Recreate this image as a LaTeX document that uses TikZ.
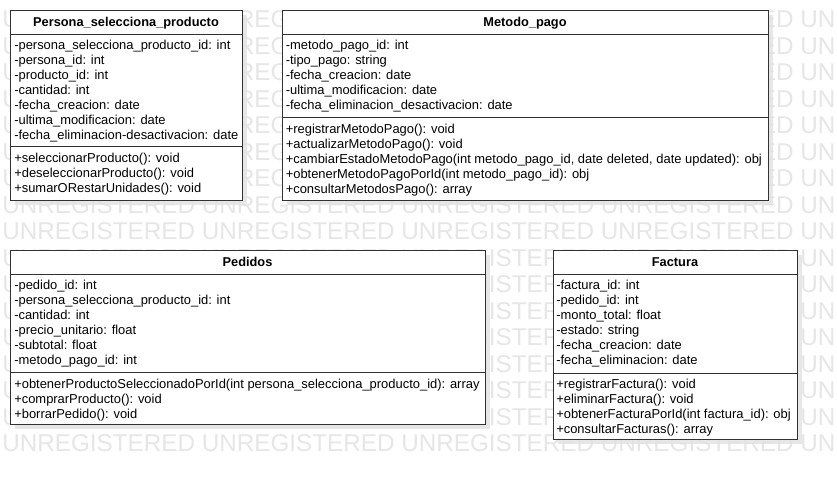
\documentclass[tikz,border=0pt]{standalone}
\usepackage{fontspec}
\setmainfont{Liberation Sans}
\definecolor{wmgray}{RGB}{230,230,230}
\definecolor{shadowgray}{RGB}{226,226,226}
\definecolor{linegray}{RGB}{50,50,50}
\tikzset{
  classbox/.style={draw=linegray, line width=0.75pt, fill=white},
  shadowbox/.style={fill=shadowgray, draw=none, opacity=0.8},
  sepline/.style={draw=linegray, line width=0.75pt},
  member/.style={anchor=base west, inner sep=0pt, font=\fontsize{9.7}{11}\selectfont},
  classtitle/.style={anchor=base, inner sep=0pt, font=\fontsize{9.6}{11}\selectfont\bfseries},
  wm/.style={anchor=base west, inner sep=0pt, text=wmgray, font=\fontsize{18.2}{20}\selectfont},
}
\begin{document}
\begin{tikzpicture}[x=0.75pt,y=-0.75pt]
\useasboundingbox (0,0) rectangle (837,480);
\fill[white] (0,0) rectangle (837,480);
% watermark
\begin{scope}
  \clip (0,0) rectangle (837,480);
  \foreach \i in {0,...,16} {
    \node[wm] (wm\i) at (2,{27.5+26.5*\i}) {UNREGISTERED UNREGISTERED UNREGISTERED UNREGISTERED UNR};
  }
\end{scope}
% shadows
\fill[shadowbox] (15,15) rectangle (247,205);
\fill[shadowbox] (287,15) rectangle (773,205);
\fill[shadowbox] (15,255) rectangle (490,429);
\fill[shadowbox] (558,255) rectangle (802,444);

% ---------- Persona_selecciona_producto
\draw[classbox] (10,10) rectangle (242,200);
\draw[sepline] (10,34) -- (242,34);
\draw[sepline] (10,146) -- (242,146);
\node[classtitle] (t1) at (126,26.5) {Persona\_selecciona\_producto};
\node[member] (a11) at (14,49.5) {-persona\_selecciona\_producto\_id: int};
\node[member] (a12) at (14,64.5) {-persona\_id: int};
\node[member] (a13) at (14,79.5) {-producto\_id: int};
\node[member] (a14) at (14,94.5) {-cantidad: int};
\node[member] (a15) at (14,109.5) {-fecha\_creacion: date};
\node[member] (a16) at (14,124.5) {-ultima\_modificacion: date};
\node[member] (a17) at (14,139.5) {-fecha\_eliminacion-desactivacion: date};
\node[member] (m11) at (14,162.8) {+seleccionarProducto(): void};
\node[member] (m12) at (14,177.8) {+deseleccionarProducto(): void};
\node[member] (m13) at (14,192.8) {+sumarORestarUnidades(): void};

% ---------- Metodo_pago
\draw[classbox] (282,10) rectangle (768,200);
\draw[sepline] (282,34) -- (768,34);
\draw[sepline] (282,117) -- (768,117);
\node[classtitle] (t2) at (525,26.5) {Metodo\_pago};
\node[member] (a21) at (285.5,49.5) {-metodo\_pago\_id: int};
\node[member] (a22) at (285.5,64.5) {-tipo\_pago: string};
\node[member] (a23) at (285.5,79.5) {-fecha\_creacion: date};
\node[member] (a24) at (285.5,94.5) {-ultima\_modificacion: date};
\node[member] (a25) at (285.5,109.5) {-fecha\_eliminacion\_desactivacion: date};
\node[member] (m21) at (285.5,133) {+registrarMetodoPago(): void};
\node[member] (m22) at (285.5,148) {+actualizarMetodoPago(): void};
\node[member] (m23) at (285.5,163) {+cambiarEstadoMetodoPago(int metodo\_pago\_id, date deleted, date updated): obj};
\node[member] (m24) at (285.5,178) {+obtenerMetodoPagoPorId(int metodo\_pago\_id): obj};
\node[member] (m25) at (285.5,193) {+consultarMetodosPago(): array};

% ---------- Pedidos
\draw[classbox] (10,250) rectangle (485,424);
\draw[sepline] (10,274) -- (485,274);
\draw[sepline] (10,372) -- (485,372);
\node[classtitle] (t3) at (247.5,266.5) {Pedidos};
\node[member] (a31) at (14,289.5) {-pedido\_id: int};
\node[member] (a32) at (14,304.5) {-persona\_selecciona\_producto\_id: int};
\node[member] (a33) at (14,319.5) {-cantidad: int};
\node[member] (a34) at (14,334.5) {-precio\_unitario: float};
\node[member] (a35) at (14,349.5) {-subtotal: float};
\node[member] (a36) at (14,364.5) {-metodo\_pago\_id: int};
\node[member] (m31) at (14,388.7) {+obtenerProductoSeleccionadoPorId(int persona\_selecciona\_producto\_id): array};
\node[member] (m32) at (14,403.7) {+comprarProducto(): void};
\node[member] (m33) at (14,418.2) {+borrarPedido(): void};

% ---------- Factura
\draw[classbox] (553,250) rectangle (797,439);
\draw[sepline] (553,274) -- (797,274);
\draw[sepline] (553,373) -- (797,373);
\node[classtitle] (t4) at (675,266.5) {Factura};
\node[member] (a41) at (556,289.5) {-factura\_id: int};
\node[member] (a42) at (556,304.5) {-pedido\_id: int};
\node[member] (a43) at (556,319.5) {-monto\_total: float};
\node[member] (a44) at (556,334.5) {-estado: string};
\node[member] (a45) at (556,349.5) {-fecha\_creacion: date};
\node[member] (a46) at (556,364.5) {-fecha\_eliminacion: date};
\node[member] (m41) at (556,388.7) {+registrarFactura(): void};
\node[member] (m42) at (556,403.7) {+eliminarFactura(): void};
\node[member] (m43) at (556,418.7) {+obtenerFacturaPorId(int factura\_id): obj};
\node[member] (m44) at (556,433.5) {+consultarFacturas(): array};
\end{tikzpicture}
\end{document}
